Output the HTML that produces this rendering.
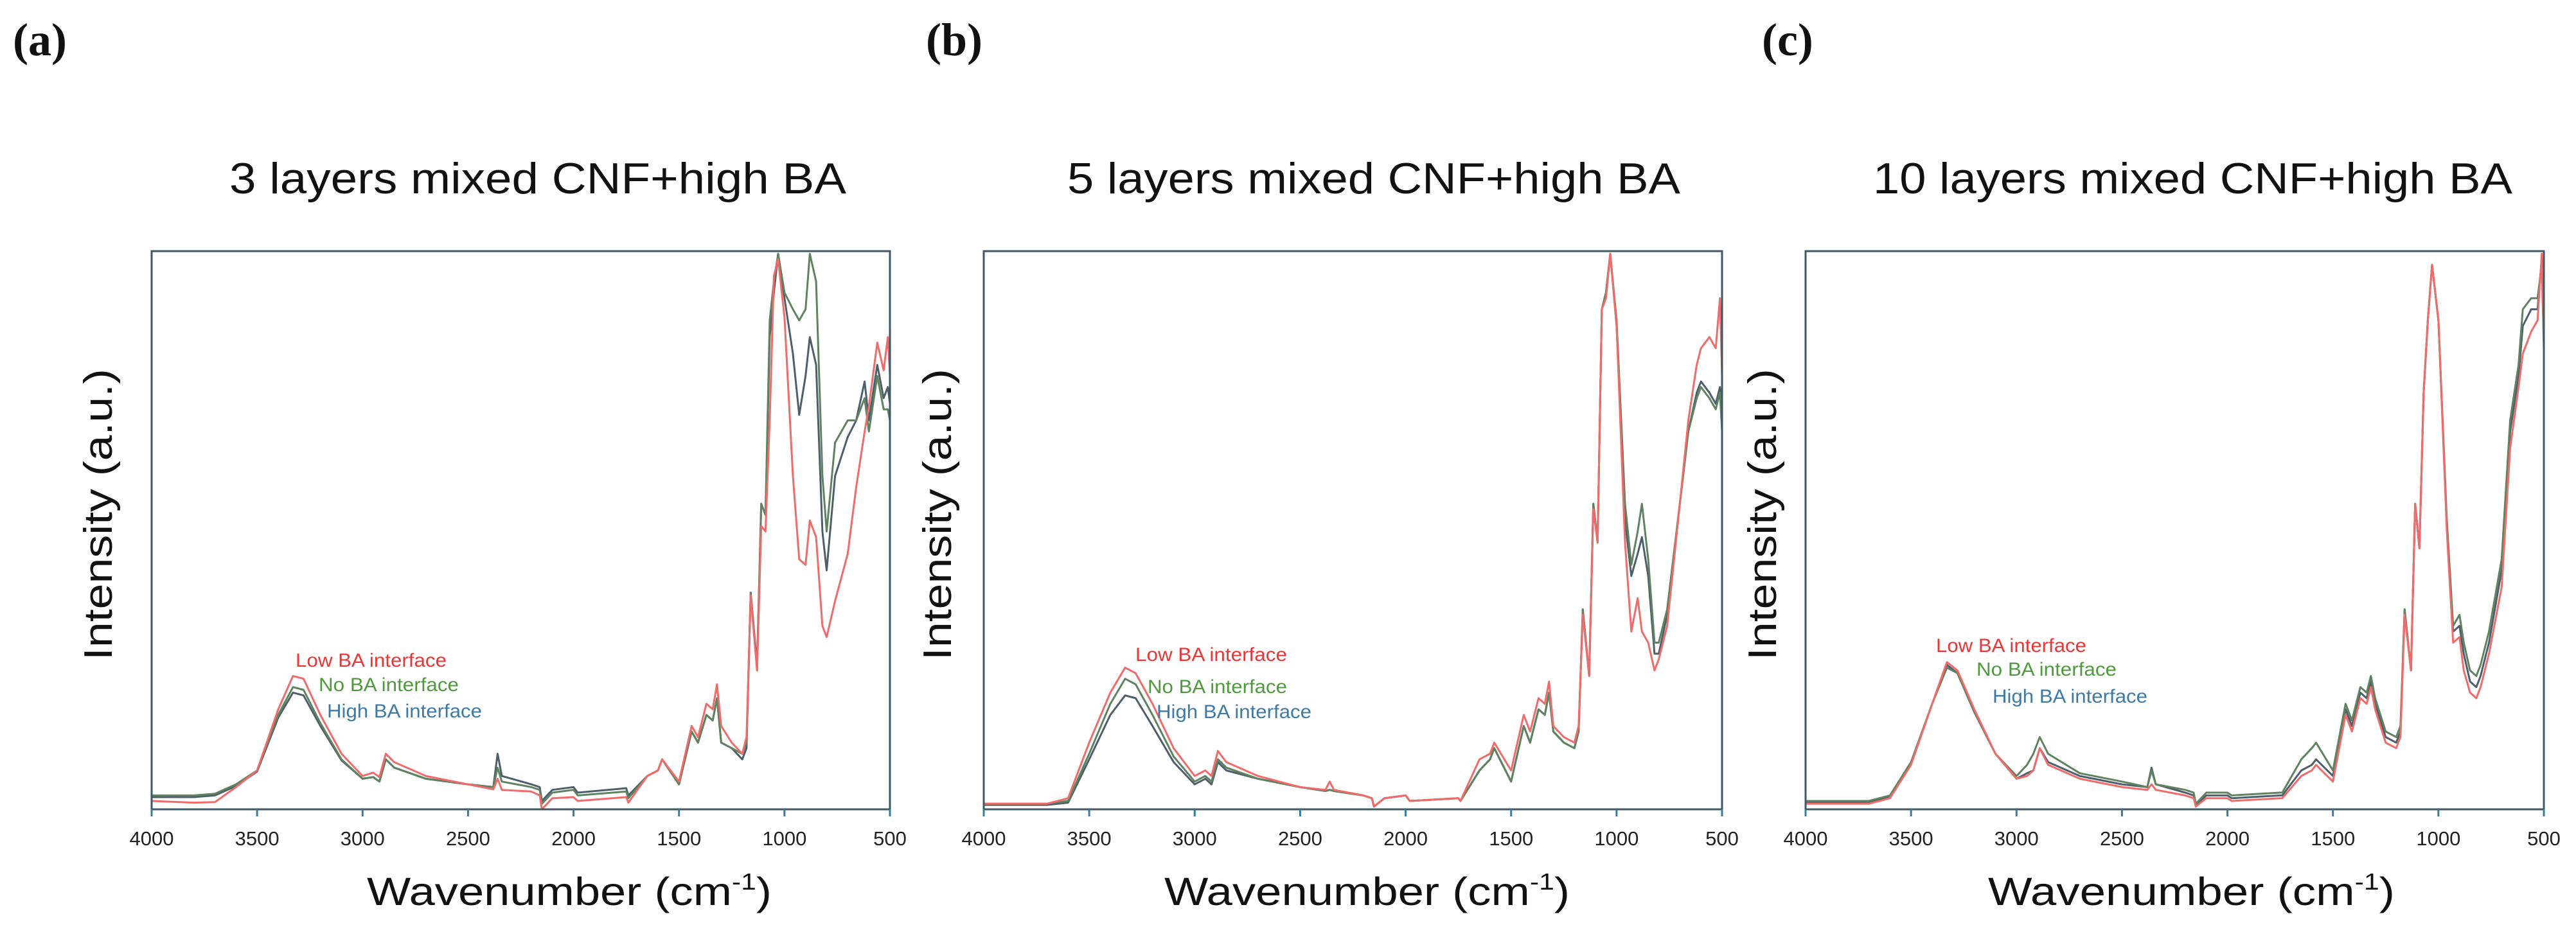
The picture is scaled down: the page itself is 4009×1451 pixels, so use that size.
<!DOCTYPE html>
<html><head><meta charset="utf-8"><style>
html,body{margin:0;padding:0;background:#fff;}
svg{display:block;}
</style></head><body>
<svg id="fig" width="4009" height="1451" viewBox="0 0 4009 1451" xmlns="http://www.w3.org/2000/svg" font-family="Liberation Sans, sans-serif"></svg>
<script>
const wavenumbers = [4000,3800,3700,3600,3500,3400,3330,3280,3200,3100,3000,2950,2920,2890,2850,2700,2500,2380,2360,2340,2200,2160,2150,2100,2000,1980,1750,1740,1650,1600,1580,1500,1440,1410,1370,1340,1320,1300,1250,1200,1180,1160,1130,1110,1090,1070,1050,1030,1000,960,930,900,880,850,820,800,760,700,660,620,600,560,530,510,500];
const xTicks = [4000,3500,3000,2500,2000,1500,1000,500];
const panelTitles = ["3 layers mixed CNF+high BA","5 layers mixed CNF+high BA","10 layers mixed CNF+high BA"];
const seriesNames = ["High BA interface","No BA interface","Low BA interface"];
const aLow  = [.015,.012,.013,.04,.07,.18,.24,.235,.17,.10,.06,.066,.058,.10,.085,.06,.045,.036,.055,.035,.032,.025,0,.02,.022,.015,.022,.012,.06,.07,.09,.05,.15,.13,.19,.18,.225,.15,.12,.10,.13,.385,.25,.51,.50,.70,.96,.99,.885,.6,.45,.44,.52,.49,.33,.31,.375,.46,.58,.68,.725,.84,.79,.85,.78];
const aNo   = [.025,.025,.028,.045,.07,.17,.22,.215,.155,.09,.055,.058,.05,.09,.075,.055,.045,.04,.075,.05,.04,.035,.01,.03,.035,.025,.032,.02,.06,.07,.09,.045,.14,.12,.17,.16,.2,.12,.11,.10,.12,.39,.25,.55,.53,.88,.95,1.0,.93,.9,.88,.9,1.0,.95,.6,.5,.66,.70,.70,.74,.68,.78,.72,.72,.70];
const aHigh = [.022,.022,.025,.042,.068,.165,.21,.205,.15,.088,.055,.058,.05,.09,.075,.055,.045,.04,.10,.06,.045,.04,.015,.035,.04,.03,.038,.025,.06,.07,.09,.045,.14,.12,.17,.16,.2,.12,.11,.09,.11,.39,.26,.55,.53,.85,.93,1.0,.92,.82,.71,.78,.85,.80,.50,.43,.60,.67,.70,.77,.70,.80,.74,.76,.73];
const bLow  = [.01,.01,.01,.02,.12,.21,.255,.245,.19,.11,.06,.07,.06,.105,.085,.06,.04,.035,.05,.035,.025,.02,.005,.02,.025,.015,.02,.015,.09,.10,.12,.07,.17,.14,.20,.19,.23,.15,.13,.12,.15,.35,.24,.54,.48,.90,.92,1.0,.87,.48,.32,.38,.32,.30,.25,.27,.33,.55,.70,.80,.83,.85,.83,.92,.78];
const bNo   = [.01,.01,.01,.015,.10,.19,.235,.225,.17,.095,.05,.06,.05,.09,.075,.055,.04,.033,.035,.033,.025,.02,.005,.02,.025,.015,.02,.015,.07,.09,.11,.05,.15,.12,.18,.17,.21,.14,.12,.11,.14,.36,.24,.55,.48,.90,.93,1.0,.88,.55,.44,.50,.55,.45,.30,.30,.36,.55,.68,.74,.76,.74,.72,.75,.68];
const bHigh = [.008,.008,.008,.012,.09,.17,.205,.20,.15,.085,.045,.055,.045,.085,.07,.055,.04,.033,.035,.033,.025,.02,.005,.02,.025,.015,.02,.015,.07,.09,.11,.05,.15,.12,.18,.17,.21,.14,.12,.11,.14,.36,.24,.55,.48,.90,.93,1.0,.87,.52,.42,.46,.49,.42,.28,.28,.35,.55,.68,.75,.77,.75,.73,.76,.70];
const cLow  = [.01,.01,.01,.02,.08,.19,.265,.25,.18,.10,.055,.06,.07,.11,.08,.055,.04,.035,.045,.035,.025,.02,.005,.02,.02,.015,.02,.02,.06,.07,.08,.05,.17,.14,.20,.19,.22,.18,.12,.11,.13,.35,.25,.55,.47,.75,.88,.98,.88,.50,.30,.31,.25,.21,.20,.22,.28,.40,.65,.76,.82,.86,.88,1.0,.85];
const cNo   = [.015,.015,.015,.025,.085,.19,.255,.245,.175,.10,.06,.08,.10,.13,.10,.065,.05,.04,.07,.045,.035,.03,.01,.03,.03,.025,.03,.03,.09,.11,.12,.07,.19,.16,.22,.21,.24,.20,.14,.13,.15,.36,.25,.55,.47,.75,.88,.98,.88,.52,.33,.35,.30,.25,.24,.26,.32,.45,.70,.80,.90,.92,.92,.98,.83];
const cHigh = [.012,.012,.012,.022,.082,.19,.26,.245,.175,.10,.055,.065,.07,.11,.085,.06,.045,.04,.075,.045,.03,.025,.008,.025,.025,.02,.025,.025,.07,.08,.09,.06,.18,.15,.21,.20,.23,.19,.13,.12,.14,.36,.25,.55,.47,.75,.88,.98,.88,.51,.32,.33,.28,.23,.22,.24,.30,.43,.68,.78,.87,.90,.90,.99,.84];

const NS='http://www.w3.org/2000/svg';
const svg=document.getElementById('fig');
function mk(tag,attrs,parent){const e=document.createElementNS(NS,tag);for(const k in attrs)e.setAttribute(k,attrs[k]);(parent||svg).appendChild(e);return e;}

const panels=[
 {id:'a',left:236,series:[aHigh,aNo,aLow],label:{x:20,text:'(a)'},title:{x:357,w:960},ytitle:152,xtitle:{x:571,w:630},
  leg:[{x:460,y:1038,w:235},{x:496,y:1076,w:218},{x:509,y:1117,w:241}]},
 {id:'b',left:1531,series:[bHigh,bNo,bLow],label:{x:1441,text:'(b)'},title:{x:1661,w:954},ytitle:1458,xtitle:{x:1812,w:631},
  leg:[{x:1767,y:1029,w:236},{x:1786,y:1079,w:217},{x:1800,y:1118,w:241}]},
 {id:'c',left:2810,series:[cHigh,cNo,cLow],label:{x:2742,text:'(c)'},title:{x:2915,w:995},ytitle:2742,xtitle:{x:3094,w:633},
  leg:[{x:3013,y:1015,w:234},{x:3076,y:1052,w:218},{x:3101,y:1094,w:241}]}
];
const W=1149, TOP=391, BOT=1260;
const lineColors=['#4d5f6a','#5f8260','#f26a6a'];
const legColors=['#3d7aa6','#4e9a3c','#ee3535'];

panels.forEach(p=>{
  const g=mk('g',{});
  
  
  const xs=w=>p.left+(4000-w)/3500*W;
  const ys=v=>BOT-v*(BOT-TOP-4);
  const lab=mk('text',{x:p.label.x,y:86,'font-family':'Liberation Serif, serif','font-weight':'bold','font-size':72,fill:'#111'},g);
  lab.textContent=p.label.text;
  
  
  const t=mk('text',{x:p.title.x,y:301,'font-size':68,fill:'#111',textLength:p.title.w,lengthAdjust:'spacingAndGlyphs'},g);
  t.textContent=panelTitles[panels.indexOf(p)];
  
  
  p.series.forEach((arr,i)=>{
    const d=arr.map((v,k)=>(k?'L':'M')+xs(wavenumbers[k]).toFixed(1)+','+ys(v).toFixed(1)).join('');
    const path=mk('path',{d:d,fill:'none',stroke:lineColors[i],'stroke-width':3,'stroke-linejoin':'round'},g);
    
    
  });
  const fr=mk('rect',{x:p.left,y:TOP,width:W,height:BOT-TOP,fill:'none',stroke:'#3e5866','stroke-width':3},g);
  
  
  xTicks.forEach(tv=>{
    const tk=mk('line',{x1:xs(tv),x2:xs(tv),y1:BOT,y2:BOT+11,stroke:'#3a7ca0','stroke-width':3},g);
    
    
    const tl=mk('text',{x:xs(tv),y:1316,'font-size':31,'text-anchor':'middle',fill:'#222'},g);
    tl.textContent=tv;
    
    
  });
  const xt=mk('text',{x:p.xtitle.x,y:1409,'font-size':61,fill:'#111',textLength:p.xtitle.w,lengthAdjust:'spacingAndGlyphs'},g);
  xt.innerHTML='Wavenumber (cm<tspan font-size="36" dy="-24">-1</tspan><tspan dy="24">)</tspan>';
  
  
  const yt=mk('text',{x:0,y:0,'font-size':62,fill:'#111','text-anchor':'middle',textLength:454,lengthAdjust:'spacingAndGlyphs',transform:`translate(${p.ytitle+22},801) rotate(-90)`},g);
  yt.textContent='Intensity (a.u.)';
  
  
  const order=[2,1,0];
  p.leg.forEach((L,j)=>{
    const si=order[j];
    const lt=mk('text',{x:L.x,y:L.y,'font-size':30,fill:legColors[si],textLength:L.w,lengthAdjust:'spacingAndGlyphs'},g);
    lt.textContent=seriesNames[si];
    
    
  });
});
</script>
</body></html>
